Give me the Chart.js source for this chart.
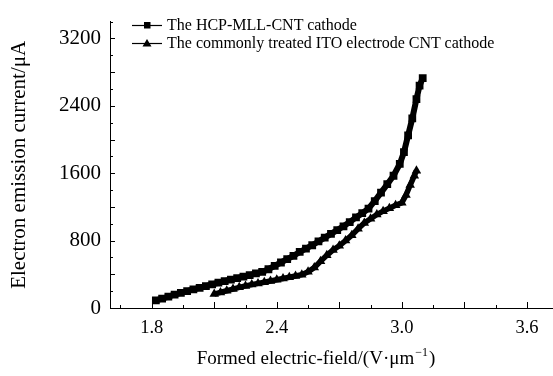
<!DOCTYPE html>
<html>
<head>
<meta charset="utf-8">
<script src="https://cdn.jsdelivr.net/npm/chart.js@4.4.1/dist/chart.umd.min.js"></script>
<style>
    html, body { margin: 0; padding: 0; background: #fff; }
    #wrap { position: relative; width: 553px; height: 376px; overflow: hidden; }
    #grafico { position: absolute; left: 0; top: 0; }
    #leyenda {
        position: absolute; left: 132px; top: 16.5px;
        font-family: "Liberation Serif", "Times New Roman", serif;
        font-size: 16px; color: #000;
    }
    #leyenda .fila { display: flex; align-items: center; height: 17.5px; white-space: nowrap; }
    #leyenda svg { margin-right: 5px; }
</style>
</head>
<body>
<div id="wrap">
    <canvas id="grafico" width="553" height="376"></canvas>
    <div id="leyenda"></div>
</div>
<script>
// Datos
const etiquetasSeries = ['The HCP-MLL-CNT cathode', 'The commonly treated ITO electrode CNT cathode'];

const hcpCampo = [1.82, 1.85, 1.88, 1.91, 1.94, 1.97, 2.00, 2.03, 2.06, 2.09, 2.12, 2.15, 2.18, 2.21, 2.24,
    2.27, 2.30, 2.33, 2.36, 2.39, 2.42, 2.45, 2.48, 2.51, 2.54, 2.57, 2.60, 2.63, 2.66, 2.69, 2.72, 2.75,
    2.78, 2.81, 2.84, 2.87, 2.90, 2.93, 2.96, 2.99, 3.01, 3.03, 3.05, 3.07, 3.085, 3.10];
const hcpCorriente = [90, 110, 135, 160, 180, 200, 220, 240, 260, 280, 300, 320, 338, 355, 372,
    390, 410, 430, 460, 500, 540, 580, 620, 665, 705, 745, 790, 835, 880, 925, 970, 1020,
    1075, 1125, 1180, 1270, 1370, 1470, 1570, 1710, 1850, 2050, 2250, 2480, 2640, 2730];

const itoCampo = [2.10, 2.13, 2.16, 2.19, 2.22, 2.25, 2.28, 2.31, 2.34, 2.37, 2.40, 2.43, 2.46, 2.49, 2.52,
    2.55, 2.58, 2.61, 2.64, 2.67, 2.70, 2.73, 2.76, 2.79, 2.82, 2.85, 2.88, 2.91, 2.94, 2.97, 3.00,
    3.02, 3.04, 3.06, 3.07];
const itoCorriente = [165, 185, 205, 225, 245, 262, 278, 292, 305, 320, 335, 350, 365, 380, 395,
    430, 480, 555, 625, 690, 740, 800, 865, 940, 1010, 1060, 1110, 1150, 1185, 1220, 1250,
    1340, 1460, 1570, 1630];

const etiquetasX = [1.8, 2.4, 3.0, 3.6];
const etiquetasY = [0, 800, 1600, 2400, 3200];

const fuente = '"Liberation Serif", "Times New Roman", serif';

function esEtiqueta(lista, v) {
    return lista.some(e => Math.abs(e - v) < 1e-6);
}

function aPuntos(xs, ys) {
    return xs.map((x, i) => ({ x: x, y: ys[i] }));
}

/**
 * Marcas de escala hacia dentro y titulo del eje x
 */
const marcasInternas = {
    id: 'marcasInternas',
    afterDraw(chart) {
        const ctx = chart.ctx;
        const sx = chart.scales.x;
        const sy = chart.scales.y;
        const area = chart.chartArea;
        ctx.save();
        ctx.strokeStyle = '#000';
        ctx.lineWidth = 1;
        sx.ticks.forEach(t => {
            const px = Math.round(sx.getPixelForValue(t.value)) + 0.5;
            const k = (t.value - 1.8) / 0.3;
            const largo = Math.abs(k - Math.round(k)) < 1e-6 ? 6 : 3;
            ctx.beginPath();
            ctx.moveTo(px, area.bottom);
            ctx.lineTo(px, area.bottom - largo);
            ctx.stroke();
        });
        sy.ticks.forEach(t => {
            const py = Math.round(sy.getPixelForValue(t.value)) + 0.5;
            const largo = t.value % 400 === 0 ? 5 : 3;
            ctx.beginPath();
            ctx.moveTo(area.left, py);
            ctx.lineTo(area.left + largo, py);
            ctx.stroke();
        });

        // Titulo del eje x con superindice
        const base = '19px ' + fuente;
        const sup = '12px ' + fuente;
        const p1 = 'Formed electric-field/(V\u00b7\u03bcm';
        const p2 = '\u22121';
        const p3 = ')';
        ctx.fillStyle = '#000';
        ctx.textBaseline = 'alphabetic';
        ctx.font = base;
        const w1 = ctx.measureText(p1).width;
        const w3 = ctx.measureText(p3).width;
        ctx.font = sup;
        const w2 = ctx.measureText(p2).width;
        const x0 = 315 - (w1 + w2 + w3) / 2;
        const yb = 364;
        ctx.font = base;
        ctx.fillText(p1, x0, yb);
        ctx.font = sup;
        ctx.fillText(p2, x0 + w1 + 1, yb - 8);
        ctx.font = base;
        ctx.fillText(p3, x0 + w1 + w2 + 2, yb);
        ctx.restore();
    }
};

/**
 * Leyenda HTML dentro del area del grafico
 */
const leyendaHtml = {
    id: 'leyendaHtml',
    afterUpdate(chart) {
        const cont = document.getElementById('leyenda');
        cont.innerHTML = '';
        chart.data.datasets.forEach(ds => {
            const fila = document.createElement('div');
            fila.className = 'fila';
            let marca;
            if (ds.pointStyle === 'triangle') {
                marca = '<polygon points="15,1 10.5,8.5 19.5,8.5" fill="#000"/>';
            } else {
                marca = '<rect x="12" y="2" width="6.5" height="6.5" fill="#000"/>';
            }
            fila.innerHTML = '<svg width="30" height="10"><line x1="0" y1="5.5" x2="30" y2="5.5" stroke="#000" stroke-width="1.2"/>' +
                marca + '</svg><span>' + ds.label + '</span>';
            cont.appendChild(fila);
        });
    }
};

const ctx = document.getElementById('grafico').getContext('2d');

const grafico = new Chart(ctx, {
    type: 'scatter',
    data: {
        datasets: [
            {
                label: etiquetasSeries[0],
                data: aPuntos(hcpCampo, hcpCorriente),
                showLine: true,
                borderColor: '#000',
                backgroundColor: '#000',
                borderWidth: 6,
                pointStyle: 'rect',
                pointRadius: 5.5,
                pointBorderWidth: 0
            },
            {
                label: etiquetasSeries[1],
                data: aPuntos(itoCampo, itoCorriente),
                showLine: true,
                borderColor: '#000',
                backgroundColor: '#000',
                borderWidth: 5.5,
                pointStyle: 'triangle',
                pointRadius: 5.5,
                pointBorderWidth: 0
            }
        ]
    },
    options: {
        responsive: false,
        animation: false,
        devicePixelRatio: 1,
        layout: { autoPadding: false, padding: { top: 10, left: 0, right: 0, bottom: 0 } },
        plugins: {
            legend: { display: false },
            tooltip: { enabled: false }
        },
        scales: {
            x: {
                type: 'linear',
                min: 1.6,
                max: 3.725,
                afterFit: s => {
                    s.height = 68;
                    s.paddingLeft = 0;
                    s.paddingRight = 0;
                },
                grid: { display: false, drawTicks: false },
                border: { display: true, color: '#000', width: 1 },
                ticks: {
                    stepSize: 0.15,
                    includeBounds: false,
                    autoSkip: false,
                    maxRotation: 0,
                    padding: 9,
                    color: '#000',
                    font: { family: fuente, size: 18.5 },
                    callback: v => esEtiqueta(etiquetasX, v) ? v.toFixed(1) : ''
                }
            },
            y: {
                min: 0,
                max: 3400,
                afterFit: s => { s.width = 110; },
                grid: { display: false, drawTicks: false },
                border: { display: true, color: '#000', width: 1 },
                title: {
                    display: true,
                    text: 'Electron emission current/\u03bcA',
                    color: '#000',
                    font: { family: fuente, size: 21 },
                    padding: { top: 7, bottom: 0 }
                },
                ticks: {
                    stepSize: 200,
                    autoSkip: false,
                    padding: 9,
                    color: '#000',
                    font: { family: fuente, size: 21 },
                    callback: v => esEtiqueta(etiquetasY, v) ? String(v) : ''
                }
            }
        }
    },
    plugins: [marcasInternas, leyendaHtml]
});
</script>
</body>
</html>
